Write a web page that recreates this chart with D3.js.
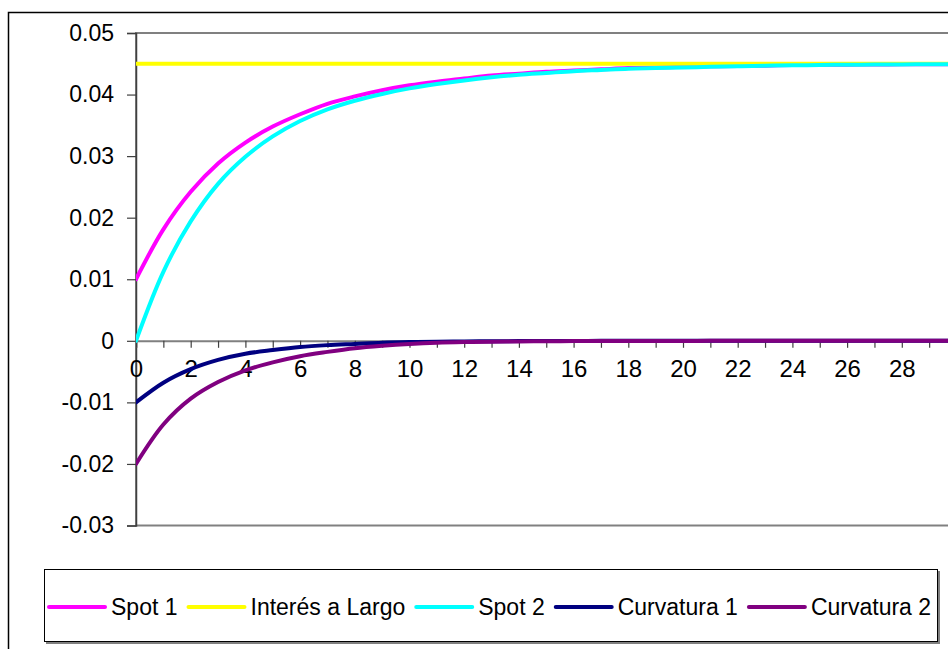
<!DOCTYPE html>
<html>
<head>
<meta charset="utf-8">
<script src="https://cdn.jsdelivr.net/npm/d3@7"></script>
<style>
  html, body { margin: 0; padding: 0; background: #fff; }
  svg { display: block; }
  text { font-family: "Liberation Sans", Arial, sans-serif; fill: #000; }
</style>
</head>
<body>
<svg id="chart" width="948" height="649"></svg>
<script>
// Plazo (años)
const plazos = d3.range(0, 31);

// Curvas del modelo
const spot1 = [0.0100, 0.0181, 0.0242, 0.0288, 0.0322, 0.0348, 0.0368, 0.0385, 0.0397, 0.0407,
  0.0415, 0.0421, 0.0426, 0.0431, 0.0434, 0.0437, 0.0439, 0.0441, 0.0443, 0.0444,
  0.0445, 0.0446, 0.04465, 0.0447, 0.0448, 0.04483, 0.04486, 0.04489, 0.04491, 0.04493, 0.04495];
const interesLargo = [0.045, 0.045, 0.045, 0.045, 0.045, 0.045, 0.045, 0.045, 0.045, 0.045,
  0.045, 0.045, 0.045, 0.045, 0.045, 0.045, 0.045, 0.045, 0.045, 0.045,
  0.045, 0.045, 0.045, 0.045, 0.045, 0.045, 0.045, 0.045, 0.045, 0.045, 0.045];
const spot2 = [0.0000, 0.0112, 0.0194, 0.0255, 0.0299, 0.0332, 0.0357, 0.0376, 0.0390, 0.0401,
  0.0410, 0.0417, 0.0423, 0.0428, 0.0432, 0.0435, 0.0438, 0.0440, 0.0442, 0.0443,
  0.0444, 0.0445, 0.0446, 0.0447, 0.04475, 0.0448, 0.04484, 0.04487, 0.0449, 0.04492, 0.04494];
const curvatura1 = [-0.0100, -0.0068, -0.0046, -0.0031, -0.0021, -0.0015, -0.0010, -0.0007, -0.0005, -0.0003,
  -0.0002, -0.00015, -0.0001, -0.00007, -0.00005, -0.00003, -0.00002, -0.00001, -0.00001, 0,
  0, 0, 0, 0, 0, 0, 0, 0, 0, 0, 0];
const curvatura2 = [-0.0200, -0.0136, -0.0094, -0.0067, -0.0048, -0.0035, -0.0025, -0.0018, -0.0012, -0.0008,
  -0.0005, -0.0003, -0.0002, -0.00015, -0.0001, -0.00007, -0.00005, -0.00004, -0.00003, -0.00002,
  -0.00002, -0.00001, -0.00001, 0, 0, 0, 0, 0, 0, 0, 0];

const seriesNames = ["Spot 1", "Interés a Largo", "Spot 2", "Curvatura 1", "Curvatura 2"];
const seriesColors = ["#FF00FF", "#FFFF00", "#00FFFF", "#000080", "#800080"];
const seriesValues = [spot1, interesLargo, spot2, curvatura1, curvatura2];

const yTicks = [-0.03, -0.02, -0.01, 0, 0.01, 0.02, 0.03, 0.04, 0.05];
const xLabelTicks = [0, 2, 4, 6, 8, 10, 12, 14, 16, 18, 20, 22, 24, 26, 28];

const svg = d3.select("#chart");

// Marco exterior del gráfico
svg.append("rect")
  .attr("x", 8.5).attr("y", 12.5)
  .attr("width", 1000).attr("height", 700)
  .attr("fill", "#fff").attr("stroke", "#000").attr("stroke-width", 1.5);

const plot = { left: 136, top: 33, right: 956.5, bottom: 525.5 };

const x = d3.scaleLinear().domain([0, 30]).range([plot.left, plot.right]);
const y = d3.scaleLinear().domain([-0.03, 0.05]).range([plot.bottom, plot.top]);

// Borde del área de trazado
svg.append("rect")
  .attr("x", plot.left).attr("y", plot.top)
  .attr("width", plot.right - plot.left).attr("height", plot.bottom - plot.top)
  .attr("fill", "none").attr("stroke", "#808080").attr("stroke-width", 2);

// Eje Y
const fmtY = d => d === 0 ? "0" : (d < 0 ? "-" : "") + Math.abs(d).toFixed(2);
const yAxis = svg.append("g")
  .attr("transform", `translate(${plot.left},0)`)
  .call(d3.axisLeft(y).tickValues(yTicks).tickSize(9).tickPadding(13).tickFormat(fmtY));
yAxis.select(".domain").attr("stroke", "#404040").attr("stroke-width", 1.5);
yAxis.selectAll(".tick line").attr("stroke", "#404040").attr("stroke-width", 1.2);
yAxis.selectAll("text").style("font-size", "23px").attr("fill", "#000");

// Eje X en el valor cero
const xAxis = svg.append("g")
  .attr("transform", `translate(0,${y(0)})`)
  .call(d3.axisBottom(x).tickValues(plazos).tickSize(7).tickPadding(12)
    .tickFormat(d => xLabelTicks.includes(d) ? String(d) : ""));
xAxis.select(".domain").attr("stroke", "#808080").attr("stroke-width", 2);
xAxis.selectAll(".tick line").attr("stroke", "#404040").attr("stroke-width", 1.2);
xAxis.selectAll("text").style("font-size", "24px").attr("fill", "#000");

// Líneas de las series
svg.append("clipPath").attr("id", "clip")
  .append("rect").attr("x", plot.left).attr("y", plot.top - 5)
  .attr("width", plot.right - plot.left).attr("height", plot.bottom - plot.top + 10);

const line = d3.line()
  .x((d, i) => x(plazos[i]))
  .y(d => y(d))
  .curve(d3.curveCatmullRom.alpha(0.5));

const lines = svg.append("g").attr("clip-path", "url(#clip)");
seriesValues.forEach((vals, k) => {
  lines.append("path")
    .attr("d", line(vals))
    .attr("fill", "none")
    .attr("stroke", seriesColors[k])
    .attr("stroke-width", 4)
    .attr("stroke-linejoin", "round")
    .attr("stroke-linecap", "round");
});

// Leyenda
const legend = svg.append("g");
legend.append("rect")
  .attr("x", 46).attr("y", 571).attr("width", 894).attr("height", 73)
  .attr("fill", "#808080");
legend.append("rect")
  .attr("x", 44.5).attr("y", 569.5).attr("width", 893).attr("height", 72)
  .attr("fill", "#fff").attr("stroke", "#000").attr("stroke-width", 1);

let lx = 49;
const ly = 607;
seriesNames.forEach((name, k) => {
  legend.append("line")
    .attr("x1", lx).attr("x2", lx + 56)
    .attr("y1", ly).attr("y2", ly)
    .attr("stroke", seriesColors[k]).attr("stroke-width", 4)
    .attr("stroke-linecap", "round");
  const t = legend.append("text")
    .attr("x", lx + 62).attr("y", ly)
    .attr("dy", "0.35em")
    .style("font-size", "23px")
    .text(name);
  lx += 62 + t.node().getComputedTextLength() + 11;
});
</script>
</body>
</html>
